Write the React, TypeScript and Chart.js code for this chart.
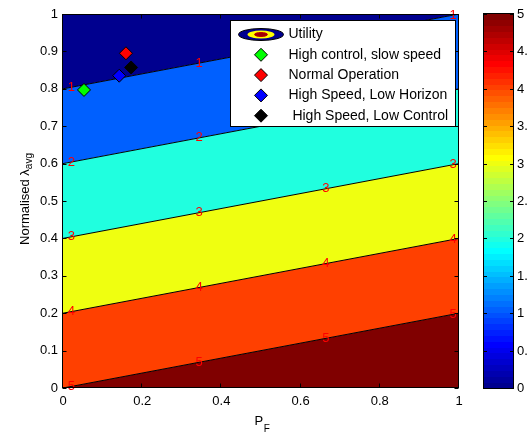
import React, { useEffect, useRef } from 'react';
import { Chart, registerables } from 'chart.js';

Chart.register(...registerables);

// ---- data ----
const contourLevels = [5, 4, 3, 2, 1];
const levelLambdaAtPF0 = [0.0, 0.2, 0.4, 0.6, 0.8];
const levelLambdaAtPF1 = [0.2, 0.4, 0.6, 0.8, 1.0];
const pfEnds = [0, 1];
const labelPF = [0.021, 0.344, 0.664, 0.985];
const xTicks = [0, 0.2, 0.4, 0.6, 0.8, 1];
const yTicks = [0, 0.1, 0.2, 0.3, 0.4, 0.5, 0.6, 0.7, 0.8, 0.9, 1];
const colorbarTicks = [0, 0.5, 1, 1.5, 2, 2.5, 3, 3.5, 4, 4.5, 5];
const colorbarMax = 5;
const pointNames = ['High control, slow speed', 'Normal Operation', 'High Speed, Low Horizon', ' High Speed, Low Control'];
const pointPF = [0.053, 0.159, 0.142, 0.172];
const pointLambda = [0.797, 0.895, 0.835, 0.857];

// ---- styles ----
const FONT = '"Liberation Sans", Arial, Helvetica, sans-serif';
const bandColors = ['#800000', '#FF4000', '#EFFF10', '#20FFDF', '#0060FF'];
const topBandColor = '#00008F';
const markerColors = ['#00FF00', '#FF0000', '#0000FF', '#000000'];

function jet64(row: number): string {
  // MATLAB jet(64), row 1..64
  const u = (k: number) => {
    if (k < 1 || k > 47) return 0;
    if (k <= 16) return k / 16;
    if (k <= 31) return 1;
    return (48 - k) / 16;
  };
  const r = u(row - 24), g = u(row - 8), b = u(row + 8);
  const c = (v: number) => Math.round(v * 255);
  return `rgb(${c(r)},${c(g)},${c(b)})`;
}

export default function App() {
  const ref = useRef<HTMLCanvasElement>(null);

  useEffect(() => {
    const canvas = ref.current!;
    const bandDatasets: any[] = contourLevels.map((lvl, i) => ({
      type: 'line',
      label: `U = ${lvl}`,
      data: pfEnds.map((pf, j) => ({ x: pf, y: j === 0 ? levelLambdaAtPF0[i] : levelLambdaAtPF1[i] })),
      borderColor: '#000',
      borderWidth: 1,
      pointRadius: 0,
      tension: 0,
      fill: i === 0 ? 'start' : '-1',
      backgroundColor: bandColors[i],
    }));
    bandDatasets.push({
      type: 'line',
      label: 'top',
      data: pfEnds.map((pf) => ({ x: pf, y: 1 })),
      borderWidth: 0,
      borderColor: 'rgba(0,0,0,0)',
      pointRadius: 0,
      fill: '-1',
      backgroundColor: topBandColor,
    });
    const markerDatasets = pointNames.map((name, i) => ({
      type: 'scatter',
      label: name,
      data: [{ x: pointPF[i], y: pointLambda[i] }],
      pointStyle: 'rectRot',
      pointRadius: 6.5,
      pointHoverRadius: 6.5,
      backgroundColor: markerColors[i],
      borderColor: '#000',
      borderWidth: 1,
      order: -1 - i,
    }));

    const overlay = {
      id: 'overlay',
      afterDatasetsDraw(chart: any) {
        const { ctx, chartArea: a, scales } = chart;
        const xs = scales.x, ys = scales.y;
        ctx.save();
        // contour labels
        ctx.font = `13px ${FONT}`;
        ctx.fillStyle = '#FF0000';
        ctx.textAlign = 'center';
        ctx.textBaseline = 'middle';
        contourLevels.forEach((lvl, i) => {
          labelPF.forEach((pf) => {
            const yv = levelLambdaAtPF0[i] + (levelLambdaAtPF1[i] - levelLambdaAtPF0[i]) * pf;
            ctx.fillText(String(lvl), xs.getPixelForValue(pf), ys.getPixelForValue(yv));
          });
        });
        // box + inward ticks
        ctx.strokeStyle = '#000';
        ctx.lineWidth = 1;
        const L = a.left - 0.5, R = a.right - 0.5, T = a.top + 0.5, B = a.bottom - 0.5;
        ctx.strokeRect(L, T, R - L, B - T);
        ctx.beginPath();
        xTicks.forEach((v) => {
          const px = Math.round(xs.getPixelForValue(v)) - 0.5;
          ctx.moveTo(px, B); ctx.lineTo(px, B - 4);
          ctx.moveTo(px, T); ctx.lineTo(px, T + 4);
        });
        yTicks.forEach((v) => {
          const py = Math.round(ys.getPixelForValue(v)) + 0.5;
          ctx.moveTo(L, py); ctx.lineTo(L + 4, py);
          ctx.moveTo(R, py); ctx.lineTo(R - 4, py);
        });
        ctx.stroke();
        ctx.restore();
      },
      afterDraw(chart: any) {
        const { ctx, chartArea: a } = chart;
        ctx.save();
        // legend
        const lx = 230.5, ly = 20.5, lw = 225, lh = 106;
        ctx.fillStyle = '#fff';
        ctx.fillRect(lx, ly, lw, lh);
        ctx.strokeStyle = '#000';
        ctx.lineWidth = 1;
        ctx.strokeRect(lx, ly, lw, lh);
        const iconX = 261, textX = 288.5, row0 = 34.5, step = 20.3;
        // utility icon
        const ell = (rx: number, ry: number, fill: string, stroke?: string) => {
          ctx.beginPath();
          ctx.ellipse(iconX, row0, rx, ry, 0, 0, Math.PI * 2);
          ctx.fillStyle = fill;
          ctx.fill();
          if (stroke) { ctx.strokeStyle = stroke; ctx.stroke(); }
        };
        ell(22.5, 6, topBandColor, '#000');
        ell(13.5, 4, '#FFFF00');
        ell(6.5, 2, '#A00000', '#C00000');
        ctx.font = `14px ${FONT}`;
        ctx.textAlign = 'left';
        ctx.textBaseline = 'middle';
        ctx.fillStyle = '#000';
        ctx.fillText('Utility', textX, row0);
        pointNames.forEach((name, i) => {
          const cy = row0 + step * (i + 1);
          const r = 6.5;
          ctx.beginPath();
          ctx.moveTo(iconX - r, cy);
          ctx.lineTo(iconX, cy - r);
          ctx.lineTo(iconX + r, cy);
          ctx.lineTo(iconX, cy + r);
          ctx.closePath();
          ctx.fillStyle = markerColors[i];
          ctx.fill();
          ctx.strokeStyle = '#000';
          ctx.stroke();
          ctx.fillStyle = '#000';
          ctx.fillText(name, textX, cy);
        });

        // colorbar
        const cx0 = 484, cx1 = 513;
        const top = a.top, bot = a.bottom, h = bot - top;
        for (let r = 0; r < 64; r++) {
          const y1 = bot - (r * h) / 64;
          const y0 = bot - ((r + 1) * h) / 64;
          ctx.fillStyle = jet64(r + 1);
          ctx.fillRect(cx0, Math.floor(y0), cx1 - cx0, Math.ceil(y1) - Math.floor(y0));
        }
        ctx.strokeStyle = '#000';
        ctx.strokeRect(cx0 - 0.5, top - 0.5, cx1 - cx0 + 1, h + 1);
        ctx.beginPath();
        ctx.font = `13px ${FONT}`;
        ctx.fillStyle = '#000';
        ctx.textAlign = 'left';
        ctx.textBaseline = 'middle';
        colorbarTicks.forEach((v) => {
          const py = Math.round(bot - (v / colorbarMax) * h) + 0.5;
          ctx.moveTo(cx0, py); ctx.lineTo(cx0 + 3, py);
          ctx.moveTo(cx1, py); ctx.lineTo(cx1 - 3, py);
          ctx.fillText(String(v), cx1 + 4, py);
        });
        ctx.stroke();

        // axis titles
        ctx.fillStyle = '#000';
        ctx.textBaseline = 'alphabetic';
        // x title P_F
        ctx.font = `13px ${FONT}`;
        const pW = ctx.measureText('P').width;
        ctx.font = `10px ${FONT}`;
        const fW = ctx.measureText('F').width;
        const cxT = (a.left + a.right) / 2 + 1;
        const sx = cxT - (pW + fW) / 2;
        ctx.font = `13px ${FONT}`;
        ctx.fillText('P', sx, 424.5);
        ctx.font = `10px ${FONT}`;
        ctx.fillText('F', sx + pW + 0.5, 431.5);
        // y title
        ctx.translate(28.5, (a.top + a.bottom) / 2 - 2);
        ctx.rotate(-Math.PI / 2);
        ctx.font = `13px ${FONT}`;
        const mainT = 'Normalised \u03bb';
        const mW = ctx.measureText(mainT).width;
        ctx.font = `10px ${FONT}`;
        const subW = ctx.measureText('avg').width;
        const st = -(mW + subW) / 2;
        ctx.font = `13px ${FONT}`;
        ctx.fillText(mainT, st, 0);
        ctx.font = `10px ${FONT}`;
        ctx.fillText('avg', st + mW, 3.5);
        ctx.restore();
      },
    };

    const chart = new Chart(canvas, {
      type: 'line',
      data: { datasets: [...bandDatasets, ...markerDatasets] as any },
      options: {
        responsive: false,
        animation: false,
        events: [],
        layout: { padding: { left: 0, right: 68, top: 14, bottom: 0 } },
        plugins: {
          legend: { display: false },
          tooltip: { enabled: false },
          filler: { drawTime: 'beforeDatasetsDraw' } as any,
        },
        scales: {
          x: {
            type: 'linear',
            min: 0,
            max: 1,
            grid: { display: false, drawTicks: false },
            border: { display: false },
            afterBuildTicks: (s: any) => { s.ticks = xTicks.map((v) => ({ value: v })); },
            afterFit: (s: any) => { s.height = 46; },
            ticks: {
              color: '#000',
              font: { family: FONT, size: 13 },
              padding: 6,
              maxRotation: 0,
              autoSkip: false,
              callback: (v: any) => String(v),
            },
          },
          y: {
            type: 'linear',
            min: 0,
            max: 1,
            grid: { display: false, drawTicks: false },
            border: { display: false },
            afterBuildTicks: (s: any) => { s.ticks = yTicks.map((v) => ({ value: v })); },
            afterFit: (s: any) => { s.width = 63; },
            ticks: {
              color: '#000',
              font: { family: FONT, size: 13 },
              padding: 5,
              autoSkip: false,
              callback: (v: any) => String(v),
            },
          },
        },
      },
      plugins: [overlay],
    });
    return () => chart.destroy();
  }, []);

  return (
    <div style={{ position: 'absolute', left: 0, top: 0, width: 527, height: 434, background: '#fff' }}>
      <canvas ref={ref} width={527} height={434} style={{ display: 'block', width: 527, height: 434 }} />
    </div>
  );
}
